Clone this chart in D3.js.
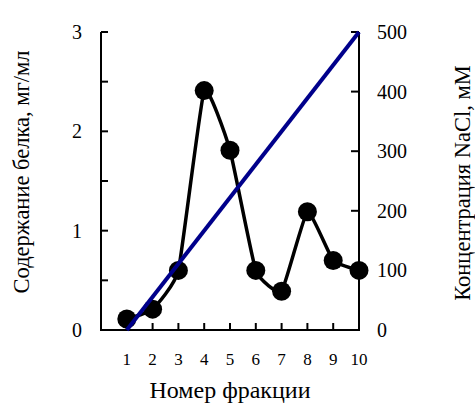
<!DOCTYPE html>
<html>
<head>
<meta charset="utf-8">
<script src="https://cdn.jsdelivr.net/npm/d3@7"></script>
<style>
  body { margin: 0; background: #fff; }
  svg text { font-family: "Liberation Serif", "DejaVu Serif", serif; fill: #000; }
</style>
</head>
<body>
<svg width="475" height="408"></svg>
<script>
// fraction numbers and protein content, mg/ml
const fractions = [1, 2, 3, 4, 5, 6, 7, 8, 9, 10];
const protein = [0.11, 0.21, 0.6, 2.41, 1.81, 0.6, 0.39, 1.19, 0.7, 0.6];
// NaCl gradient, mM
const naclX = [1, 10];
const naclY = [0, 500];
const leftTicks = [0, 1, 2, 3];
const rightTicks = [0, 100, 200, 300, 400, 500];

const svg = d3.select('svg');

const x = d3.scaleLinear().domain([0, 10]).range([101, 359]);
const yL = d3.scaleLinear().domain([0, 3]).range([330, 32]);
const yR = d3.scaleLinear().domain([0, 500]).range([330, 32]);

// left axis
const gL = svg.append('g').attr('transform', 'translate(101,0)');
gL.append('line').attr('y1', 32).attr('y2', 331).attr('stroke', '#000').attr('stroke-width', 2);
gL.selectAll('.tk').data(d3.range(0, 3.01, 0.5)).enter().append('line')
  .attr('x1', 0).attr('x2', 7)
  .attr('y1', d => yL(d)).attr('y2', d => yL(d))
  .attr('stroke', '#000').attr('stroke-width', 2);
gL.selectAll('text').data(leftTicks).enter().append('text')
  .attr('x', -24).attr('y', d => yL(d)).attr('dy', '0.35em')
  .attr('text-anchor', 'middle').style('font-size', '20px')
  .text(d => d);

// right axis
const gR = svg.append('g').attr('transform', 'translate(359,0)');
gR.append('line').attr('y1', 32).attr('y2', 331).attr('stroke', '#000').attr('stroke-width', 2);
gR.selectAll('.tk').data(rightTicks).enter().append('line')
  .attr('x1', 0).attr('x2', -8)
  .attr('y1', d => yR(d)).attr('y2', d => yR(d))
  .attr('stroke', '#000').attr('stroke-width', 2);
gR.selectAll('text').data(rightTicks).enter().append('text')
  .attr('x', 18).attr('y', d => yR(d)).attr('dy', '0.35em')
  .style('font-size', '20px')
  .text(d => d);

// bottom axis
svg.append('line').attr('x1', 100).attr('x2', 360).attr('y1', 330).attr('y2', 330)
  .attr('stroke', '#000').attr('stroke-width', 2);
svg.selectAll('.xt').data(fractions).enter().append('line')
  .attr('x1', d => x(d)).attr('x2', d => x(d))
  .attr('y1', 330).attr('y2', 323)
  .attr('stroke', '#000').attr('stroke-width', 2);
svg.selectAll('.xl').data(fractions).enter().append('text')
  .attr('x', d => x(d)).attr('y', 365)
  .attr('text-anchor', 'middle').style('font-size', '17px')
  .text(d => d);

// axis titles
svg.append('text').attr('x', 230).attr('y', 398).attr('text-anchor', 'middle')
  .style('font-size', '24px').text('Номер фракции');
svg.append('text').attr('transform', 'translate(29,172) rotate(-90)')
  .attr('text-anchor', 'middle').style('font-size', '22.5px')
  .text('Содержание белка, мг/мл');
svg.append('text').attr('transform', 'translate(470,183) rotate(-90)')
  .attr('text-anchor', 'middle').style('font-size', '22.5px')
  .text('Концентрация NaCl, мМ');

// protein curve
const line = d3.line()
  .x((d, i) => x(fractions[i]))
  .y(d => yL(d))
  .curve(d3.curveCardinal.tension(0.6));
svg.append('path').datum(protein).attr('d', line)
  .attr('fill', 'none').attr('stroke', '#000').attr('stroke-width', 3.5);
svg.selectAll('.dot').data(protein).enter().append('circle')
  .attr('cx', (d, i) => x(fractions[i])).attr('cy', d => yL(d))
  .attr('r', 9.5).attr('fill', '#000');

// NaCl gradient line
svg.append('line')
  .attr('x1', x(naclX[0])).attr('y1', yR(naclY[0]))
  .attr('x2', x(naclX[1])).attr('y2', yR(naclY[1]))
  .attr('stroke', '#00008b').attr('stroke-width', 4);
</script>
</body>
</html>
